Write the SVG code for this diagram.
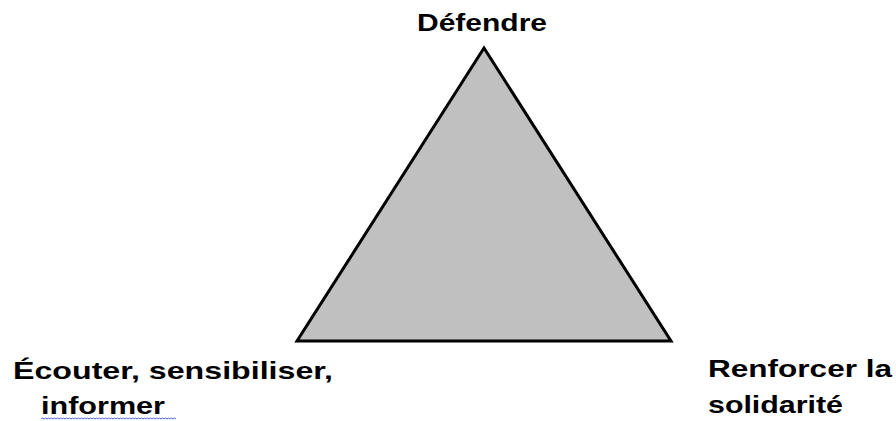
<svg xmlns="http://www.w3.org/2000/svg" width="896" height="421" viewBox="0 0 896 421">
<style>
.lbl{font-family:"Liberation Sans",Arial,sans-serif;font-weight:bold;font-size:24px;fill:#000}
</style>
<rect width="896" height="421" fill="#fff"/>
<g id="triangle">
<polygon points="484,48 297,341 671,341" fill="#c0c0c0" stroke="#000" stroke-width="3" stroke-linejoin="miter"/>
</g>
<g id="top">
<text class="lbl" x="417" y="31" textLength="130" lengthAdjust="spacingAndGlyphs">Défendre</text>
</g>
<g id="left">
<text class="lbl" x="13" y="379" textLength="320" lengthAdjust="spacingAndGlyphs">Écouter, sensibiliser,</text>
<text class="lbl" x="41" y="414" textLength="124" lengthAdjust="spacingAndGlyphs">informer</text>
<path d="M41,419 l1.5,-1 l1.5,1 l1.5,-1 l1.5,1 l1.5,-1 l1.5,1 l1.5,-1 l1.5,1 l1.5,-1 l1.5,1 l1.5,-1 l1.5,1 l1.5,-1 l1.5,1 l1.5,-1 l1.5,1 l1.5,-1 l1.5,1 l1.5,-1 l1.5,1 l1.5,-1 l1.5,1 l1.5,-1 l1.5,1 l1.5,-1 l1.5,1 l1.5,-1 l1.5,1 l1.5,-1 l1.5,1 l1.5,-1 l1.5,1 l1.5,-1 l1.5,1 l1.5,-1 l1.5,1 l1.5,-1 l1.5,1 l1.5,-1 l1.5,1 l1.5,-1 l1.5,1 l1.5,-1 l1.5,1 l1.5,-1 l1.5,1 l1.5,-1 l1.5,1 l1.5,-1 l1.5,1 l1.5,-1 l1.5,1 l1.5,-1 l1.5,1 l1.5,-1 l1.5,1 l1.5,-1 l1.5,1 l1.5,-1 l1.5,1 l1.5,-1 l1.5,1 l1.5,-1 l1.5,1 l1.5,-1 l1.5,1 l1.5,-1 l1.5,1 l1.5,-1 l1.5,1 l1.5,-1 l1.5,1 l1.5,-1 l1.5,1 l1.5,-1 l1.5,1 l1.5,-1 l1.5,1 l1.5,-1 l1.5,1 l1.5,-1 l1.5,1 l1.5,-1 l1.5,1 l1.5,-1 l1.5,1 l1.5,-1 l1.5,1 l1.5,-1 l1.5,1" fill="none" stroke="#4a5ee8" stroke-width="1"/>
</g>
<g id="right">
<text class="lbl" x="708" y="377" textLength="184" lengthAdjust="spacingAndGlyphs">Renforcer la</text>
<text class="lbl" x="708" y="413" textLength="135" lengthAdjust="spacingAndGlyphs">solidarité</text>
</g>
<g id="connectors"></g>
</svg>
